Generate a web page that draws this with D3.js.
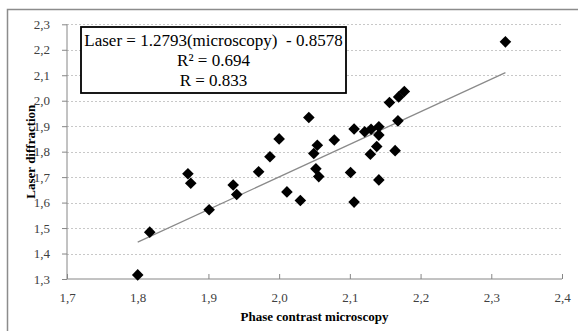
<!DOCTYPE html>
<html>
<head>
<meta charset="utf-8">
<script src="https://cdn.jsdelivr.net/npm/d3@7"></script>
<style>
  body { margin: 0; background: #fff; }
  svg { display: block; }
</style>
</head>
<body>
<div id="chart"></div>
<script>
// phase contrast microscopy (x) vs laser diffraction (y)
const microscopy = [1.800, 1.817, 1.871, 1.875, 1.901, 1.935, 1.940, 1.971, 1.987, 2.000,
  2.011, 2.030, 2.042, 2.054, 2.049, 2.052, 2.056, 2.078, 2.106, 2.101,
  2.106, 2.121, 2.130, 2.141, 2.141, 2.138, 2.129, 2.141, 2.164, 2.168,
  2.156, 2.169, 2.177, 2.320];
const laser = [1.316, 1.484, 1.713, 1.676, 1.572, 1.669, 1.632, 1.721, 1.780, 1.850,
  1.642, 1.608, 1.934, 1.825, 1.793, 1.733, 1.702, 1.846, 1.889, 1.718,
  1.602, 1.878, 1.888, 1.898, 1.865, 1.820, 1.790, 1.689, 1.804, 1.921,
  1.993, 2.015, 2.036, 2.231];
const xTicks = [1.7, 1.8, 1.9, 2.0, 2.1, 2.2, 2.3, 2.4];
const yTicks = [1.3, 1.4, 1.5, 1.6, 1.7, 1.8, 1.9, 2.0, 2.1, 2.2, 2.3];
const slope = 1.2793, intercept = -0.8578;
const trendRange = [1.8, 2.32];
const eqLines = ['Laser = 1.2793(microscopy)  - 0.8578', 'R\u00b2 = 0.694', 'R = 0.833'];

const W = 578, H = 331;
const serif = '"Liberation Serif", "Times New Roman", serif';
const fmt = d => d.toFixed(1).replace('.', ',');

const svg = d3.select('#chart').append('svg')
    .attr('width', W)
    .attr('height', H);

// outer frame (runs past the bottom/right edge)
svg.append('rect')
    .attr('x', 7.5).attr('y', 9.5)
    .attr('width', 600).attr('height', 400)
    .attr('fill', 'none')
    .attr('stroke', '#8c8c8c')
    .attr('stroke-width', 1.5);

const x = d3.scaleLinear().domain([1.7, 2.4]).range([67, 562]);
const y = d3.scaleLinear().domain([1.3, 2.3]).range([279, 24.3]);

// gridlines
svg.append('g')
    .selectAll('line')
    .data(yTicks.slice(1))
    .enter()
    .append('line')
    .attr('x1', x(1.7)).attr('x2', x(2.4))
    .attr('y1', d => Math.round(y(d)) + 0.5)
    .attr('y2', d => Math.round(y(d)) + 0.5)
    .attr('stroke', '#c8c8c8')
    .attr('stroke-dasharray', '2,2');

const yAxis = d3.axisLeft(y)
    .tickValues(yTicks)
    .tickSize(5)
    .tickPadding(12)
    .tickFormat(fmt);

const xAxis = d3.axisBottom(x)
    .tickValues(xTicks)
    .tickSize(5)
    .tickPadding(9)
    .tickFormat(fmt);

const styleAxis = g => {
  g.selectAll('path, line').attr('stroke', '#868686');
  g.selectAll('text')
      .attr('fill', '#404040')
      .style('font-family', serif)
      .style('font-size', '13px');
};

svg.append('g')
    .attr('transform', 'translate(' + x(1.7) + ',0)')
    .call(yAxis)
    .call(g => g.select('.domain').attr('d', 'M0,' + y(2.3) + 'V' + y(1.3)))
    .call(styleAxis);

svg.append('g')
    .attr('transform', 'translate(0,' + y(1.3) + ')')
    .call(xAxis)
    .call(g => g.select('.domain').attr('d', 'M' + x(1.7) + ',0H' + x(2.4)))
    .call(g => g.selectAll('.tick line').attr('y1', -5).attr('y2', 0))
    .call(styleAxis);

// trend line
svg.append('line')
    .attr('x1', x(trendRange[0]))
    .attr('y1', y(slope * trendRange[0] + intercept))
    .attr('x2', x(trendRange[1]))
    .attr('y2', y(slope * trendRange[1] + intercept))
    .attr('stroke', '#8a8a8a')
    .attr('stroke-width', 1.2);

// points
const diamond = 'M0,-5.8L5.8,0L0,5.8L-5.8,0Z';
svg.append('g')
    .selectAll('path')
    .data(microscopy)
    .enter()
    .append('path')
    .attr('transform', (d, i) => 'translate(' + x(d) + ',' + y(laser[i]) + ')')
    .attr('d', diamond)
    .attr('fill', '#000');

// equation box
const box = {x: 81, y: 27, w: 265, h: 66};
svg.append('rect')
    .attr('x', box.x).attr('y', box.y)
    .attr('width', box.w).attr('height', box.h)
    .attr('fill', '#fff')
    .attr('stroke', '#000')
    .attr('stroke-width', 1.8);

svg.append('g')
    .selectAll('text')
    .data(eqLines)
    .enter()
    .append('text')
    .attr('x', box.x + box.w / 2)
    .attr('y', (d, i) => 46 + i * 20.2)
    .attr('text-anchor', 'middle')
    .style('white-space', 'pre')
    .style('font-family', serif)
    .style('font-size', '17px')
    .attr('fill', '#000')
    .text(d => d);

// axis titles
svg.append('text')
    .attr('x', (x(1.7) + x(2.4)) / 2)
    .attr('y', 321)
    .attr('text-anchor', 'middle')
    .style('font-family', serif)
    .style('font-size', '13px')
    .style('font-weight', 'bold')
    .text('Phase contrast microscopy');

svg.append('text')
    .attr('transform', 'translate(35,' + y(1.8) + ') rotate(-90)')
    .attr('text-anchor', 'middle')
    .style('font-family', serif)
    .style('font-size', '13px')
    .style('font-weight', 'bold')
    .text('Laser diffraction');
</script>
</body>
</html>
